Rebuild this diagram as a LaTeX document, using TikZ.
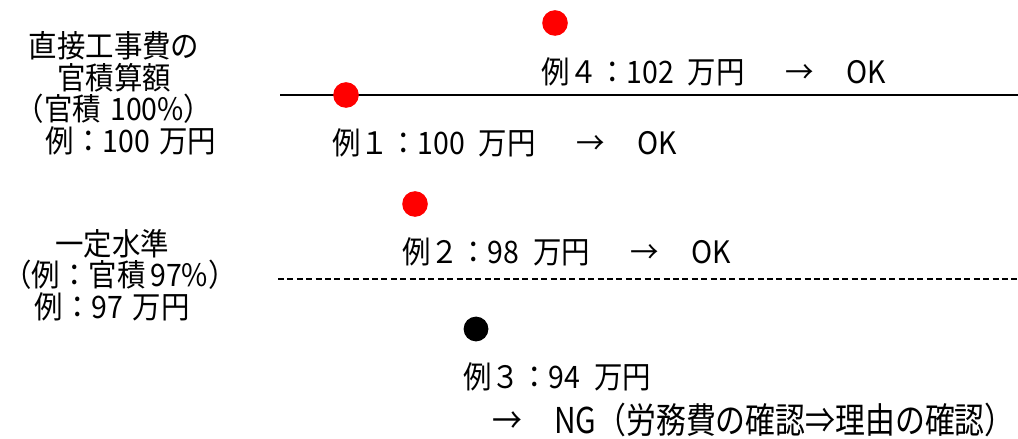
\documentclass[tikz,border=0pt]{standalone}
\usepackage{fontspec}
\newfontfamily\jpfont[FakeStretch=0.92]{Noto Sans CJK JP}
\newfontfamily\jpwide[FakeStretch=0.84]{Noto Sans CJK JP}
\usetikzlibrary{positioning}

\begin{document}
\begin{tikzpicture}[x=0.025cm, y=-0.025cm,
    casetext/.style={font=\jpfont\fontsize{22pt}{22pt}\selectfont, inner sep=0pt, anchor=west},
    bigtext/.style={font=\jpwide\fontsize{25.3pt}{25pt}\selectfont, inner sep=0pt, anchor=west},
    sidetext/.style={font=\jpfont\fontsize{22pt}{22.4pt}\selectfont, inner sep=0pt, align=center},
    okdot/.style={circle, fill=red, minimum size=0.64cm, inner sep=0pt},
    ngdot/.style={circle, fill=black, minimum size=0.62cm, inner sep=0pt}]
    \useasboundingbox (0,0) rectangle (1018,439);

    % Left side labels
    \node[sidetext] (estimate) at (114,93) {直接工事費の\\官積算額\\（官積\hspace{0.3em}100\%）\\\hspace*{1.1em}例：100\hspace{0.3em}万円};
    \node[sidetext] (level) at (120,275) {\hspace*{-0.5em}一定水準\\（例：官積\hspace{0.15em}97\%）\\\hspace*{-0.5em}例：97\hspace{0.3em}万円};

    % Reference lines
    \coordinate (estL) at (280,95);
    \coordinate (estR) at (1018,95);
    \coordinate (lvlL) at (278,279);
    \coordinate (lvlR) at (1018,279);
    \draw[line width=0.05cm] (estL) -- (estR);
    \draw[line width=0.035cm, dash pattern=on 0.15cm off 0.085cm] (lvlL) -- (lvlR);

    % Cases
    \node[okdot] (dot4) at (555,23) {};
    \node[casetext] (case4) at (541,72) {例４：102\hspace{0.45em}万円\hspace{1.3em}→\hspace{1.05em}OK};
    \node[okdot] (dot1) at (346,95) {};
    \node[casetext] (case1) at (332,143) {例１：100\hspace{0.45em}万円\hspace{1.3em}→\hspace{1.05em}OK};
    \node[okdot] (dot2) at (415,204) {};
    \node[casetext] (case2) at (402,252) {例２：98\hspace{0.45em}万円\hspace{1.3em}→\hspace{1.05em}OK};
    \node[ngdot] (dot3) at (476,329) {};
    \node[casetext] (case3) at (463,377) {例３：94\hspace{0.45em}万円};
    \node[bigtext] (case3ng) at (492,420) {→\hspace{0.9em}NG（労務費の確認⇒理由の確認）};
\end{tikzpicture}
\end{document}
